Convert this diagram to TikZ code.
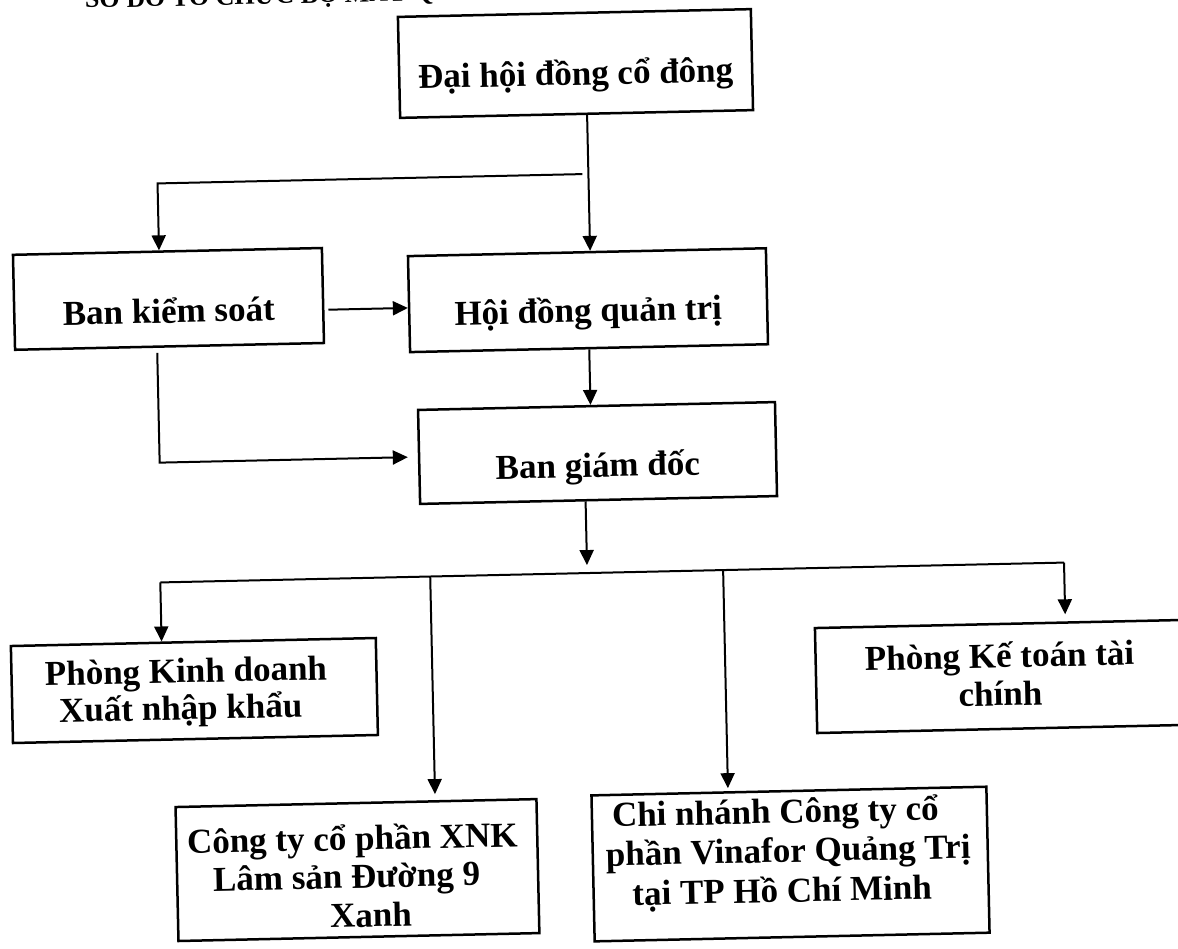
\documentclass[tikz,border=0pt]{standalone}
\usepackage{fontspec}
\setmainfont{Liberation Serif}
\usetikzlibrary{arrows.meta}
\begin{document}
\begin{tikzpicture}[x=1pt,y=1pt,
  box/.style={draw, line width=2.5pt, inner sep=0pt, transform shape},
  t/.style={anchor=base, inner sep=0pt, transform shape,
    font=\bfseries\fontsize{35}{40}\selectfont},
  arr/.style={line width=2pt, -{Triangle[length=15pt,width=14pt]}},
  ln/.style={line width=2pt}]
\useasboundingbox (0,0) rectangle (1178,948);
\clip (0,0) rectangle (1178,948);
\begin{scope}[rotate around={1.26:(589,474)}]
\node[anchor=base west, transform shape, font=\bfseries\fontsize{26}{30}\selectfont] (title) at (92,951) {SƠ ĐỒ TỔ CHỨC BỘ MÁY QUẢN LÝ};
% boxes
\node[box, minimum width=353pt, minimum height=101pt] (A) at (584.5,884.7) {};
\node[box, minimum width=309pt, minimum height=95pt] (B) at (172.4,658.3) {};
\node[box, minimum width=358pt, minimum height=96pt] (C) at (591.8,647.8) {};
\node[box, minimum width=357pt, minimum height=94pt] (D) at (598,494.8) {};
\node[box, minimum width=365pt, minimum height=97pt] (E) at (189.7,266.2) {};
\node[box, minimum width=368pt, minimum height=105pt] (F) at (995.5,262.5) {};
\node[box, minimum width=361pt, minimum height=134pt] (G) at (348.8,83.1) {};
\node[box, minimum width=395pt, minimum height=146pt] (H) at (781.9,79.6) {};
% texts
\node[t] (At) at ([yshift=-21.5pt]A.center) {Đại hội đồng cổ đông};
\node[t] (Bt) at ([yshift=-24pt]B.center) {Ban kiểm soát};
\node[t] (Ct) at ([yshift=-22pt]C.center) {Hội đồng quản trị};
\node[t] (Dt) at ([yshift=-24pt]D.center) {Ban giám đốc};
\node[t] (E1) at ([shift={(-8,8)}]E.center) {Phòng Kinh doanh};
\node[t] (E2) at ([shift={(-14,-29)}]E.center) {Xuất nhập khẩu};
\node[t] (F1) at ([shift={(0,9)}]F.center) {Phòng Kế toán tài};
\node[t] (F2) at ([shift={(0,-29)}]F.center) {chính};
\node[t] (G1) at ([shift={(-4.5,20)}]G.center) {Công ty cổ phần XNK};
\node[t] (G2) at ([shift={(-11,-18)}]G.center) {Lâm sản Đường 9};
\node[t] (G3) at ([shift={(12.5,-57)}]G.center) {Xanh};
\node[t] (H1) at ([shift={(-14,41)}]H.center) {Chi nhánh Công ty cổ};
\node[t] (H2) at ([shift={(-2,2)}]H.center) {phần Vinafor Quảng Trị};
\node[t] (H3) at ([shift={(-9,-38)}]H.center) {tại TP Hồ Chí Minh};
% helper coordinates
\coordinate (xAC) at (595,0);
\coordinate (j1) at (589,774);
\coordinate (xB) at (164,0);
\coordinate (yBC) at (0,644);
\coordinate (xCD) at (592,0);
\coordinate (xBD) at (160,0);
\coordinate (xD) at (585,0);
\coordinate (dTip) at (585,383);
\coordinate (busL) at (158,375);
\coordinate (busR) at (1062,375);
\coordinate (busG) at (428,375);
\coordinate (busH) at (721,375);
% connectors
\draw[arr] (A.south -| xAC) -- (C.north -| xAC);
\draw[arr] (j1) -| (B.north -| xB);
\draw[arr, shorten <=4pt] (B.east |- yBC) -- (C.west |- yBC);
\draw[arr] (C.south -| xCD) -- (D.north -| xCD);
\draw[arr, shorten <=5pt, shorten >=10pt] (B.south -| xBD) |- (D.west);
\draw[arr] (D.south -| xD) -- (dTip);
\draw[ln] (busL) -- (busR);
\draw[arr] (busL) -- (busL |- E.north);
\draw[arr, shorten >=7pt] (busR) -- (busR |- F.north);
\draw[arr, shorten >=6pt] (busG) -- (busG |- G.north);
\draw[arr, shorten >=3pt] (busH) -- (busH |- H.north);
\end{scope}
\end{tikzpicture}
\end{document}
